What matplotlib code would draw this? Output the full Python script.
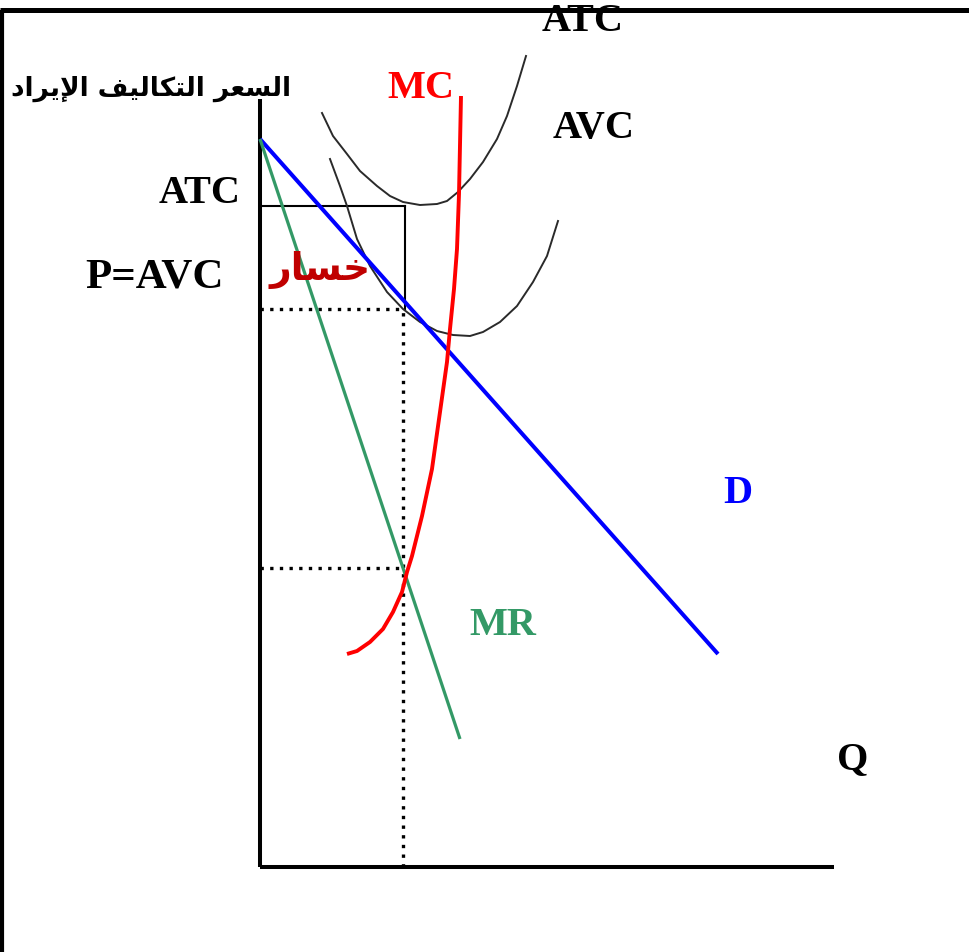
import matplotlib
matplotlib.use("Agg")
import matplotlib.pyplot as plt

# ---------------- data (Q, P units) ----------------
d_q = [0.0, 45.8]
d_p = [72.8, 21.3]

mr_q = [0.0, 20.0]
mr_p = [72.8, 12.8]

mc_q = [8.7, 9.7, 11.0, 12.3, 13.3, 14.2, 14.7, 15.2, 16.2, 17.2, 18.0, 18.7, 19.0, 19.4, 19.7, 19.9, 20.1]
mc_p = [21.3, 21.6, 22.5, 23.8, 25.5, 27.5, 29.5, 31.1, 35.1, 39.8, 45.5, 50.5, 53.8, 57.8, 61.8, 67.3, 77.1]

atc_q = [6.2, 7.3, 8.7, 10.0, 11.7, 13.0, 14.3, 16.0, 17.7, 18.7, 19.8, 21.0, 22.3, 23.7, 24.7, 25.7, 26.6]
atc_p = [75.4, 73.1, 71.3, 69.6, 68.1, 67.1, 66.5, 66.2, 66.3, 66.6, 67.5, 68.8, 70.5, 72.8, 75.1, 78.1, 81.1]

avc_q = [7.0, 8.0, 8.7, 9.7, 11.0, 12.7, 14.3, 16.0, 17.7, 19.3, 21.0, 22.3, 24.0, 25.7, 27.3, 28.7, 29.8]
avc_p = [70.8, 68.1, 66.1, 62.8, 60.1, 57.5, 55.8, 54.5, 53.6, 53.2, 53.1, 53.5, 54.5, 56.1, 58.5, 61.1, 64.6]

q_star = 14.3          # chosen output
atc_level = 66.1       # ATC at q*
price_level = 55.8     # P = AVC at q*
mr_mc_level = 29.9     # MR = MC
q_box = 14.5

y_axis_top = 76.8
x_axis_end = 57.4

axis_title = "السعر التكاليف الإيراد"
loss_label = "خسار"

# ---------------- Arabic shaping (presentation forms, RTL) ----------------
FORMS = {
    'ا': (0xFE8D, 0xFE8E, None, None),
    'إ': (0xFE87, 0xFE88, None, None),
    'ل': (0xFEDD, 0xFEDE, 0xFEDF, 0xFEE0),
    'س': (0xFEB1, 0xFEB2, 0xFEB3, 0xFEB4),
    'ع': (0xFEC9, 0xFECA, 0xFECB, 0xFECC),
    'ر': (0xFEAD, 0xFEAE, None, None),
    'ت': (0xFE95, 0xFE96, 0xFE97, 0xFE98),
    'ك': (0xFED9, 0xFEDA, 0xFEDB, 0xFEDC),
    'ي': (0xFEF1, 0xFEF2, 0xFEF3, 0xFEF4),
    'ف': (0xFED1, 0xFED2, 0xFED3, 0xFED4),
    'د': (0xFEA9, 0xFEAA, None, None),
    'خ': (0xFEA5, 0xFEA6, 0xFEA7, 0xFEA8),
    'ة': (0xFE93, 0xFE94, None, None),
}
LIGS = {'لا': (0xFEFB, 0xFEFC, None, None), 'لإ': (0xFEF9, 0xFEFA, None, None)}


def shape(text):
    out_words = []
    for word in text.split(' '):
        toks = []
        i = 0
        while i < len(word):
            pair = word[i:i + 2]
            if pair in LIGS:
                toks.append(LIGS[pair]); i += 2
            else:
                toks.append(FORMS.get(word[i], (ord(word[i]),) * 2 + (None, None))); i += 1
        chars = []
        for k, t in enumerate(toks):
            prev_j = k > 0 and toks[k - 1][2] is not None
            next_j = k < len(toks) - 1 and t[2] is not None
            if prev_j and next_j:
                c = t[3]
            elif prev_j:
                c = t[1]
            elif next_j:
                c = t[2]
            else:
                c = t[0]
            chars.append(chr(c))
        out_words.append(''.join(chars))
    return ' '.join(out_words)[::-1]


# ---------------- figure ----------------
W, H = 969, 953
fig = plt.figure(figsize=(W / 100, H / 100), dpi=100)
ax = fig.add_axes([0, 0, 1, 1])
ax.set_xlim(-26.0, 70.9)
ax.set_ylim(-8.5, 86.8)
ax.axis('off')

# outer frame (top and left edges)
ax.plot([0, 1], [0.9885, 0.9885], transform=ax.transAxes, color='black', lw=3.6,
        solid_capstyle='butt', clip_on=False)
ax.plot([0.002, 0.002], [0, 0.9885], transform=ax.transAxes, color='black', lw=3.0,
        solid_capstyle='butt', clip_on=False)

# axes
ax.plot([0, 0], [0, y_axis_top], color='black', lw=2.9, solid_capstyle='butt')
ax.plot([0, x_axis_end], [0, 0], color='black', lw=2.9, solid_capstyle='butt')

# ATC box
ax.plot([0, q_box], [atc_level, atc_level], color='black', lw=1.5)
ax.plot([q_box, q_box], [atc_level, price_level], color='black', lw=1.5)

# dotted guides
dot = dict(color='black', lw=2.4, linestyle=(0, (1, 1.9)), dash_capstyle='butt')
ax.plot([0, q_star], [price_level, price_level], **dot)
ax.plot([0, q_star], [mr_mc_level, mr_mc_level], **dot)
ax.plot([q_star, q_star], [0, price_level], **dot)

# cost curves
ax.plot(atc_q, atc_p, color='#2a2a2a', lw=1.4, solid_joinstyle='round')
ax.plot(avc_q, avc_p, color='#2a2a2a', lw=1.4, solid_joinstyle='round')

# demand, MR, MC
ax.plot(d_q, d_p, color='#0000ff', lw=2.9, solid_capstyle='butt')
ax.plot(mr_q, mr_p, color='#339966', lw=2.3, solid_capstyle='butt')
ax.plot(mc_q, mc_p, color='#ff0000', lw=2.8, solid_capstyle='butt', solid_joinstyle='round')

# labels
serif = dict(family='Liberation Serif', weight='bold', fontsize=29, ha='center', va='center')
ax.text(32.3, 84.6, 'ATC', color='black', **serif)
ax.text(16.1, 77.9, 'MC', color='#ff0000', **serif)
ax.text(33.4, 73.9, 'AVC', color='black', **serif)
ax.text(-6.0, 67.4, 'ATC', color='black', **serif)
ax.text(-10.5, 59.0, 'P=AVC', color='black',
        **{**serif, 'fontsize': 31})
ax.text(47.8, 37.4, 'D', color='#0000ff', **serif)
ax.text(24.3, 24.2, 'MR', color='#339966', **serif)
ax.text(59.3, 10.8, 'Q', color='black', **serif)

ax.text(-10.9, 77.9, shape(axis_title), family='DejaVu Sans', weight='bold', fontsize=19,
        ha='center', va='center', color='black')
ax.text(6.0, 59.8, shape(loss_label), family='DejaVu Sans', weight='bold', fontsize=27,
        ha='center', va='center', color='#c00000')

fig.savefig('out.png', dpi=100)
